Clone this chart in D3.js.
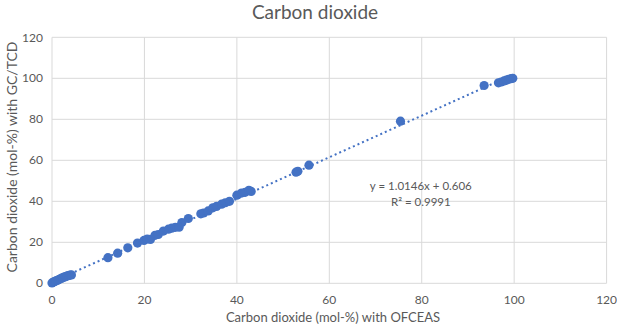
<!DOCTYPE html>
<style>
body { margin: 0; background: #fff; }
text { font-family: Lato, "Open Sans", sans-serif; fill: #595959; }
</style>
<svg width="617" height="329"></svg>
<script src="https://d3js.org/d3.v7.min.js"></script>
<script>

var ofceas = [0, 0.3, 0.6, 0.9, 1.2, 1.5, 1.8, 2.1, 2.4, 2.7, 3.0, 3.3, 3.6, 3.9, 4.2,
  12.1, 14.2, 16.4, 18.5, 19.9, 20.6, 21.3, 22.3, 23.0, 24.1, 25.2, 25.9, 26.7, 27.5, 28.1,
  29.5, 32.2, 32.8, 33.8, 34.8, 35.6, 36.7, 37.5, 38.4, 40.0, 41.0, 41.8, 42.6, 43.1,
  52.8, 53.2, 55.6, 75.4, 93.5, 96.6, 97.2, 97.8, 98.3, 98.8, 99.3, 99.7];
var gctcd = [0.2, 0.6, 0.9, 1.2, 1.5, 1.8, 2.2, 2.5, 2.8, 3.1, 3.3, 3.6, 3.8, 4.0, 4.1,
  12.5, 14.7, 17.3, 19.6, 20.9, 21.6, 21.4, 23.4, 23.8, 25.5, 26.4, 26.9, 27.3, 27.4, 29.6,
  31.6, 33.9, 34.3, 35.3, 36.8, 37.5, 38.6, 39.3, 40.0, 43.0, 44.0, 44.4, 45.4, 44.8,
  54.2, 54.6, 57.6, 79.1, 96.5, 97.8, 98.2, 98.7, 99.1, 99.5, 99.8, 100.0];
var ticks = [0, 20, 40, 60, 80, 100, 120];
var slope = 1.0146, intercept = 0.606, r2 = 0.9991;

var svg = d3.select("svg"),
    margin = {top: 37.3, right: 10.4, bottom: 45.7, left: 52},
    width = +svg.attr("width") - margin.left - margin.right,
    height = +svg.attr("height") - margin.top - margin.bottom,
    g = svg.append("g").attr("transform", "translate(" + margin.left + "," + margin.top + ")");

var x = d3.scaleLinear().domain([0, 120]).range([0, width]);
var y = d3.scaleLinear().domain([0, 120]).range([height, 0]);

// grid
g.append("g").selectAll("line").data(ticks).enter().append("line")
    .attr("x1", 0).attr("x2", width)
    .attr("y1", function(d) { return y(d); }).attr("y2", function(d) { return y(d); })
    .attr("stroke", "#d9d9d9").attr("stroke-width", 1);
g.append("g").selectAll("line").data(ticks).enter().append("line")
    .attr("y1", 0).attr("y2", height)
    .attr("x1", function(d) { return x(d); }).attr("x2", function(d) { return x(d); })
    .attr("stroke", "#d9d9d9").attr("stroke-width", 1);

// tick labels
g.append("g").selectAll("text").data(ticks).enter().append("text")
    .attr("x", -9).attr("y", function(d) { return y(d); })
    .attr("dy", "0.35em").attr("text-anchor", "end")
    .attr("font-size", 12).text(function(d) { return d; });
g.append("g").selectAll("text").data(ticks).enter().append("text")
    .attr("x", function(d) { return x(d); }).attr("y", height + 17)
    .attr("dy", "0.35em").attr("text-anchor", "middle")
    .attr("font-size", 12).text(function(d) { return d; });

// points
var pts = ofceas.map(function(v, i) { return [v, gctcd[i]]; });
g.append("g").selectAll("circle").data(pts).enter().append("circle")
    .attr("cx", function(d) { return x(d[0]); })
    .attr("cy", function(d) { return y(d[1]); })
    .attr("r", 4.6)
    .attr("fill", "#4472c4");

// trend line
var x0 = d3.min(ofceas), x1 = d3.max(ofceas);
g.append("line")
    .attr("x1", x(x0)).attr("y1", y(slope * x0 + intercept))
    .attr("x2", x(x1)).attr("y2", y(slope * x1 + intercept))
    .attr("stroke", "#4472c4").attr("stroke-width", 2)
    .attr("stroke-dasharray", "2,3");

// equation
g.append("text").attr("x", x(79.8)).attr("y", y(45.6))
    .attr("text-anchor", "middle").attr("font-size", 11.5)
    .text("y = " + slope + "x + " + intercept);
g.append("text").attr("x", x(79.8)).attr("y", y(37.8))
    .attr("text-anchor", "middle").attr("font-size", 11.5)
    .text("R\u00b2 = " + r2);

// titles
svg.append("text").attr("x", 315).attr("y", 19)
    .attr("text-anchor", "middle").attr("font-size", 19)
    .text("Carbon dioxide");
svg.append("text").attr("x", 333).attr("y", 322)
    .attr("text-anchor", "middle").attr("font-size", 13)
    .text("Carbon dioxide (mol-%) with OFCEAS");
svg.append("text")
    .attr("transform", "translate(17,157) rotate(-90)")
    .attr("text-anchor", "middle").attr("font-size", 14)
    .text("Carbon dioxide (mol-%) with GC/TCD");

</script>
